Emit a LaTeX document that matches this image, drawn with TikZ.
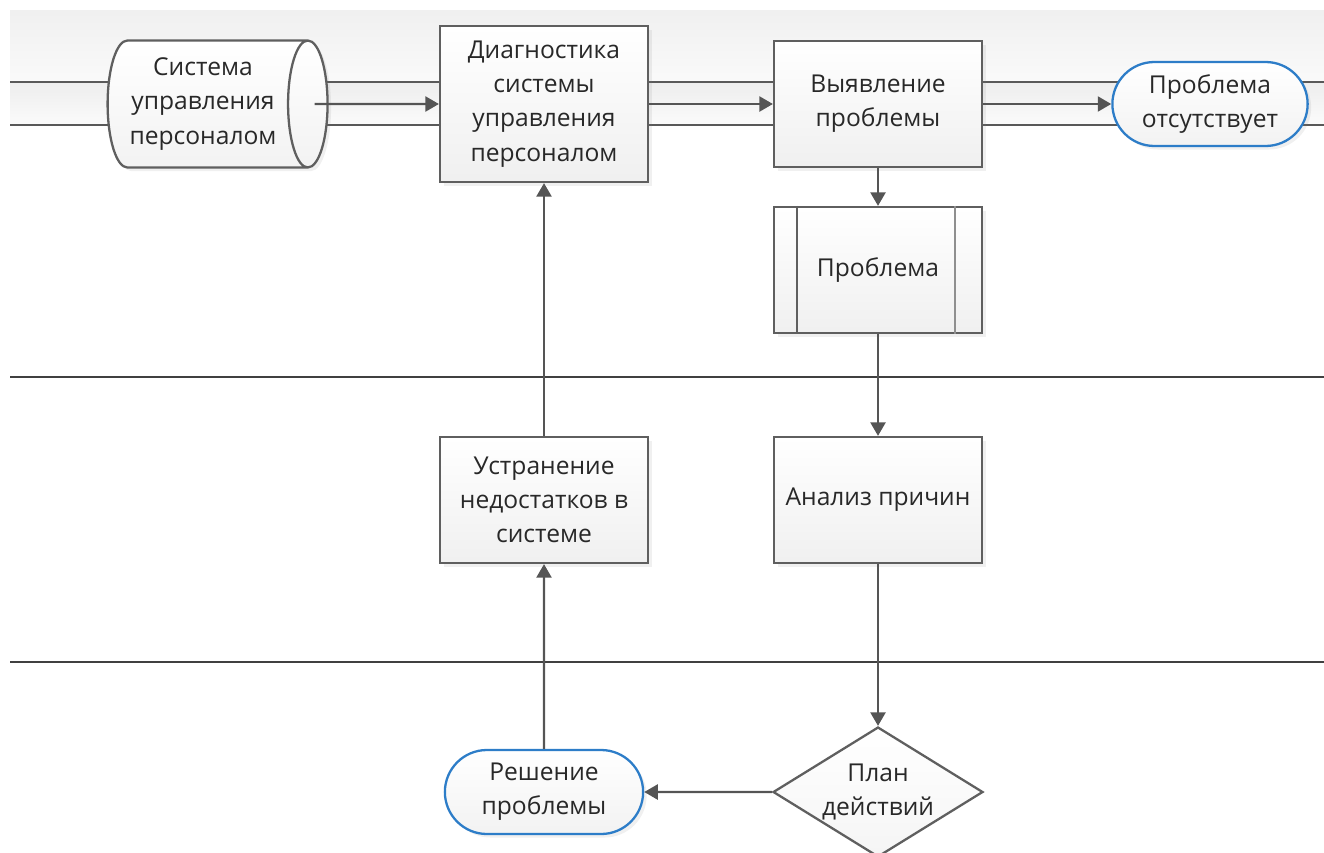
\documentclass[tikz,border=0pt]{standalone}
\usepackage{fontspec}
\setmainfont{Open Sans}
\usetikzlibrary{shapes.geometric, shapes.misc, arrows.meta, shadows}
\definecolor{linegray}{RGB}{85, 85, 85}
\definecolor{boxgray}{RGB}{95, 95, 95}
\definecolor{termblue}{RGB}{45, 125, 200}
\definecolor{txtgray}{RGB}{40, 40, 40}

\begin{document}
\begin{tikzpicture}[x=0.02cm, y=-0.02cm,
    proc/.style={rectangle, draw=boxgray, line width=1.3pt, top color=white, bottom color=gray!12,
                 minimum width=4.16cm, minimum height=2.52cm, align=center, text=txtgray,
                 font=\fontsize{14}{19.5}\selectfont,
                 drop shadow={opacity=0.12, shadow xshift=2pt, shadow yshift=-2pt}},
    term/.style={rounded rectangle, draw=termblue, line width=1.3pt, top color=white, bottom color=gray!10,
                 minimum width=4.14cm, minimum height=1.68cm, align=center, text=txtgray,
                 font=\fontsize{14}{19.5}\selectfont,
                 drop shadow={opacity=0.12, shadow xshift=2pt, shadow yshift=-2pt}},
    dbase/.style={cylinder, shape border rotate=0, aspect=0.38, draw=boxgray, line width=1.3pt,
                  top color=white, bottom color=gray!10, minimum width=2.54cm, minimum height=4.4cm,
                  inner xsep=2pt, align=center, text=txtgray, font=\fontsize{14}{19.5}\selectfont,
                  drop shadow={opacity=0.12, shadow xshift=2pt, shadow yshift=-2pt}},
    decis/.style={diamond, aspect=1.62, draw=boxgray, line width=1.3pt, top color=white, bottom color=gray!8,
                  minimum width=4.2cm, minimum height=2.6cm, inner sep=0pt, align=center,
                  text=txtgray, font=\fontsize{14}{19.5}\selectfont},
    fl/.style={-{Triangle[length=0.27cm, width=0.3cm]}, line width=1.3pt, linegray},
    lane/.style={line width=1.4pt, black!75}
]
\clip (0,0) rectangle (1324,852);

% band at the top
\shade[top color=gray!12, bottom color=gray!4] (10,10) rectangle (1324,82);
\shade[top color=gray!14, bottom color=gray!3] (10,82) rectangle (1324,125);
\draw[lane, black!65] (10,82) -- (1324,82);
\draw[lane, black!65] (10,125) -- (1324,125);

% lanes
\draw[lane] (10,377) -- (1324,377);
\draw[lane] (10,662) -- (1324,662);

\node[dbase] (hrs) at (203,104) {Система\\управления\\персоналом};
\node[proc, minimum height=3.12cm] (diag) at (544,104) {Диагностика\\системы\\управления\\персоналом};
\node[proc] (detect) at (878,104) {Выявление\\проблемы};
\node[term] (none) at (1210,104) {Проблема\\отсутствует};
\node[proc] (prob) at (878,270) {Проблема};
\draw[boxgray, line width=1.3pt] ([xshift=0.48cm]prob.north west) -- ([xshift=0.48cm]prob.south west);
\draw[boxgray!70, line width=1.3pt] ([xshift=-0.56cm]prob.north east) -- ([xshift=-0.56cm]prob.south east);

\node[proc] (fix) at (544,500) {Устранение\\недостатков в\\системе};
\node[proc] (cause) at (878,500) {Анализ причин};
\node[term, minimum width=4.2cm] (solve) at (544,792) {Решение\\проблемы};
\node[decis] (plan) at (878,792) {План\\действий};

\draw[fl] ([xshift=-0.28cm]hrs.east) -- (diag);
\draw[fl] (diag) -- (detect);
\draw[fl] (detect) -- (none);
\draw[fl] (detect) -- (prob);
\draw[fl] (prob) -- (cause);
\draw[fl] (cause) -- (plan);
\draw[fl] (plan) -- (solve);
\draw[fl] (solve) -- (fix);
\draw[fl] (fix) -- (diag);
\end{tikzpicture}
\end{document}
